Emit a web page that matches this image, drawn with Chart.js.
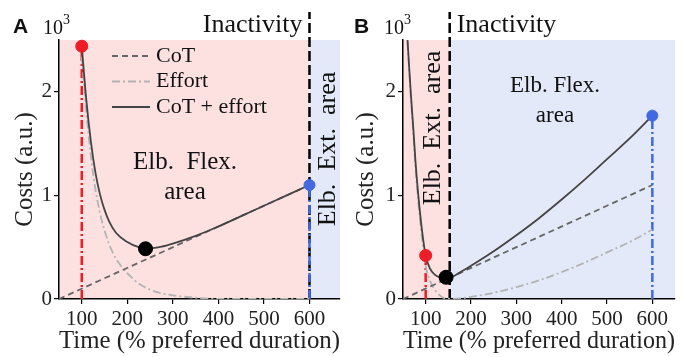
<!DOCTYPE html>
<html>
<head>
<meta charset="utf-8">
<script src="https://cdn.jsdelivr.net/npm/chart.js@4.4.1/dist/chart.umd.min.js"></script>
<style>
  html, body { margin: 0; padding: 0; background: #fff; }
  #wrap { position: relative; width: 682px; height: 357px; }
  .panel { position: absolute; top: 0; }
</style>
</head>
<body>
<div id="wrap">
  <canvas id="chart-a" class="panel" style="left:0" width="341" height="357"></canvas>
  <canvas id="chart-b" class="panel" style="left:341px" width="341" height="357"></canvas>
</div>
<script>
/* Cost of time + effort, two panels */

const xTicks = [100, 200, 300, 400, 500, 600];
const yTicks = [0, 1, 2];

// cost of time, same straight line in both panels
const cotTime = [50, 600];
const cotValue = [0, 1.1];

// panel A
const timeA = [100, 110, 120, 130, 140, 150, 160, 175, 200, 225, 240, 250, 275, 300, 350, 400, 450, 500, 550, 600];
const totalA = [2.44, 1.92, 1.52, 1.22, 1.01, 0.86, 0.75, 0.64, 0.55, 0.5, 0.49, 0.49, 0.505, 0.535, 0.61, 0.7, 0.8, 0.9, 1.0, 1.1];
const effortTimeA = [100, 110, 120, 130, 140, 150, 160, 175, 200, 225, 250, 275, 300, 350, 400, 600];
const effortA = [2.34, 1.8, 1.38, 1.06, 0.83, 0.66, 0.53, 0.39, 0.25, 0.15, 0.09, 0.055, 0.035, 0.012, 0, 0];
const markersA = { red: [100, 2.44], black: [240, 0.485], blue: [600, 1.1] };
const boundaryA = 600;

// panel B
const timeB = [60, 63, 67, 73, 78, 84, 92, 100, 110, 120, 130, 140, 150, 175, 200, 250, 300, 350, 400, 450, 500, 550, 600];
const totalB = [2.5, 2.28, 2.0, 1.63, 1.3, 0.99, 0.66, 0.42, 0.29, 0.235, 0.21, 0.205, 0.205, 0.255, 0.32, 0.46, 0.615, 0.78, 0.96, 1.15, 1.35, 1.55, 1.77];
const effortB = [2.48, 2.25, 1.97, 1.58, 1.24, 0.93, 0.58, 0.32, 0.17, 0.09, 0.04, 0.01, 0, 0.005, 0.02, 0.06, 0.115, 0.18, 0.26, 0.35, 0.45, 0.55, 0.67];
const markersB = { red: [100, 0.42], black: [145, 0.21], blue: [600, 1.77] };
const boundaryB = 153;

const SERIF = "'Liberation Serif', 'Times New Roman', serif";
const RED = "#ee1c25";
const BLUE = "#4169e1";
const PINK = "#fde1e1";
const LIGHTBLUE = "#e3e9f9";

const pts = (xs, ys) => xs.map((x, i) => ({ x: x, y: ys[i] }));

const decor = {
  id: "decor",
  beforeDraw(chart, args, o) {
    const { ctx, chartArea: a, scales: { x } } = chart;
    const bx = x.getPixelForValue(o.boundary);
    ctx.save();
    ctx.fillStyle = PINK;
    ctx.fillRect(a.left, a.top, bx - a.left, a.bottom - a.top);
    ctx.fillStyle = LIGHTBLUE;
    ctx.fillRect(bx, a.top, a.right - bx, a.bottom - a.top);
    ctx.restore();
  },
  beforeDatasetsDraw(chart, args, o) {
    const { ctx, chartArea: a, scales: { x } } = chart;
    const bx = x.getPixelForValue(o.boundary);
    ctx.save();
    ctx.strokeStyle = "#000";
    ctx.lineWidth = 2.5;
    ctx.setLineDash([10, 4]);
    ctx.beginPath();
    ctx.moveTo(bx, a.bottom);
    ctx.lineTo(bx, 12);
    ctx.stroke();
    ctx.restore();
  },
  afterDraw(chart, args, o) {
    const { ctx, scales: { x } } = chart;
    const bx = x.getPixelForValue(o.boundary);
    ctx.save();
    ctx.fillStyle = "#111";
    ctx.textBaseline = "middle";

    // panel letter and exponent
    ctx.font = "bold 21px 'Liberation Sans', Arial, sans-serif";
    ctx.textAlign = "left";
    ctx.fillText(o.letter, 13, 27);
    ctx.font = "20px " + SERIF;
    ctx.fillText("10", 43, 29);
    ctx.font = "14px " + SERIF;
    ctx.fillText("3", 63, 20);

    // inactivity label
    ctx.font = "26px " + SERIF;
    if (o.inactivityLeft) {
      ctx.textAlign = "right";
      ctx.fillText("Inactivity", bx - 7, 25);
    } else {
      ctx.textAlign = "left";
      ctx.fillText("Inactivity", bx + 7, 25);
    }

    // flexion area label
    ctx.textAlign = "center";
    ctx.font = o.flexSize + "px " + SERIF;
    ctx.fillText(o.flexText, o.flex[0], o.flex[1]);
    ctx.fillText("area", o.flex[0], o.flex[1] + 30);

    // extension area label (rotated)
    ctx.font = "26px " + SERIF;
    ctx.translate(o.ext[0], o.ext[1]);
    ctx.rotate(-Math.PI / 2);
    ctx.fillText("Elb.  Ext.  area", 0, 0);
    ctx.restore();

    // legend
    if (o.legend) {
      ctx.save();
      let y = 56;
      chart.data.datasets.filter((d) => d.label).forEach((d) => {
        ctx.strokeStyle = d.borderColor;
        ctx.lineWidth = d.borderWidth;
        ctx.setLineDash(d.borderDash || []);
        ctx.beginPath();
        ctx.moveTo(112, y);
        ctx.lineTo(150, y);
        ctx.stroke();
        ctx.fillStyle = "#111";
        ctx.font = "22px " + SERIF;
        ctx.textBaseline = "middle";
        ctx.fillText(d.label, 156, y);
        y += 25.5;
      });
      ctx.restore();
    }
  },
};

function makeConfig(p) {
  const vline = (m, color) => ({
    data: [{ x: m[0], y: 0 }, { x: m[0], y: m[1] }],
    borderColor: color,
    borderWidth: 2.5,
    borderDash: [9, 3, 2, 3],
    pointRadius: 0,
    order: 6,
  });
  const dot = (m, color, r) => ({
    data: [{ x: m[0], y: m[1] }],
    backgroundColor: color,
    borderColor: color,
    pointRadius: r,
    showLine: false,
    clip: false,
    order: 0,
  });
  return {
    type: "line",
    data: {
      datasets: [
        { label: "CoT", data: pts(cotTime, cotValue), borderColor: "#666", borderWidth: 1.8, borderDash: [6, 4], pointRadius: 0, order: 4 },
        { label: "Effort", data: pts(p.effortTime, p.effort), borderColor: "#b3b3b3", borderWidth: 1.8, borderDash: [8, 3, 2, 3], pointRadius: 0, cubicInterpolationMode: "monotone", order: 5 },
        { label: "CoT + effort", data: pts(p.time, p.total), borderColor: "#444", borderWidth: 1.8, pointRadius: 0, cubicInterpolationMode: "monotone", order: 3 },
        vline(p.markers.red, RED),
        vline(p.markers.blue, BLUE),
        dot(p.markers.red, RED, 6),
        dot(p.markers.black, "#000", 7),
        dot(p.markers.blue, BLUE, 5.5),
      ],
    },
    options: {
      responsive: false,
      animation: false,
      layout: { autoPadding: false, padding: { top: 40, right: p.padRight, left: 0, bottom: 0 } },
      plugins: {
        legend: { display: false },
        tooltip: { enabled: false },
        decor: p.decor,
      },
      scales: {
        x: {
          type: "linear",
          min: 50,
          max: p.xMax,
          afterBuildTicks: (s) => { s.ticks = xTicks.map((v) => ({ value: v })); },
          afterFit: (s) => { s.height = 58; s.paddingLeft = 0; s.paddingRight = 0; },
          grid: { drawOnChartArea: false, tickLength: 5, color: "#000", lineWidth: 1.2 },
          border: { color: "#000", width: 1.5 },
          ticks: { color: "#222", font: { family: SERIF, size: 21 }, padding: 3, maxRotation: 0 },
          title: { display: true, text: "Time (% preferred duration)", color: "#222", font: { family: SERIF, size: 25 }, padding: { bottom: 1 } },
        },
        y: {
          min: 0,
          max: 2.5,
          afterBuildTicks: (s) => { s.ticks = yTicks.map((v) => ({ value: v })); },
          afterFit: (s) => { s.width = p.yWidth; },
          grid: { drawOnChartArea: false, tickLength: 5, color: "#000", lineWidth: 1.2 },
          border: { color: "#000", width: 1.5 },
          ticks: { color: "#222", font: { family: SERIF, size: 21 }, padding: 2 },
          title: { display: true, text: "Costs (a.u.)", color: "#222", font: { family: SERIF, size: 25 }, padding: { top: 10 } },
        },
      },
    },
    plugins: [decor],
  };
}

window.onload = function () {
  new Chart(document.getElementById("chart-a").getContext("2d"), makeConfig({
    time: timeA, total: totalA, effortTime: effortTimeA, effort: effortA, markers: markersA,
    xMax: 667, yWidth: 59, padRight: 1,
    decor: { boundary: boundaryA, letter: "A", inactivityLeft: true, flexText: "Elb.  Flex.", flexSize: 25, flex: [185, 162], ext: [328, 149], legend: true },
  }));
  new Chart(document.getElementById("chart-b").getContext("2d"), makeConfig({
    time: timeB, total: totalB, effortTime: timeB, effort: effortB, markers: markersB,
    xMax: 650, yWidth: 62, padRight: 7,
    decor: { boundary: boundaryB, letter: "B", inactivityLeft: false, flexText: "Elb. Flex.", flexSize: 23, flex: [214, 86], ext: [92, 128], legend: false },
  }));
};
</script>
</body>
</html>
